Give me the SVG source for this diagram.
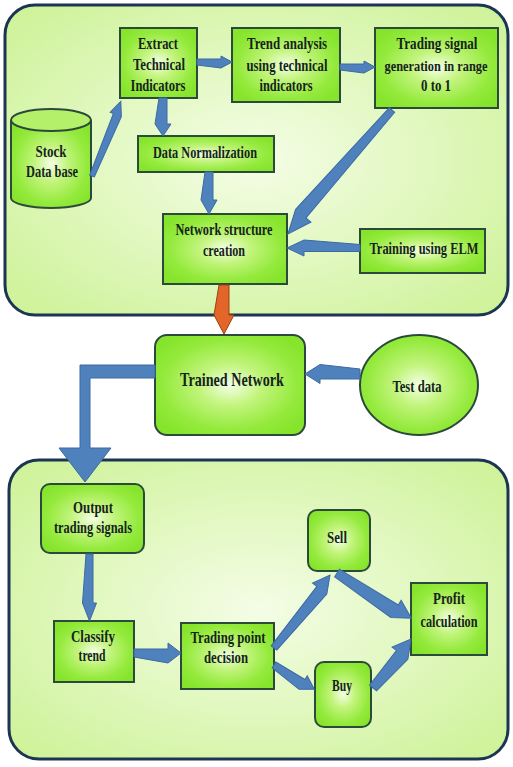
<svg xmlns="http://www.w3.org/2000/svg" width="513" height="767" viewBox="0 0 513 767">
<defs>
<radialGradient id="gBox" cx="50%" cy="50%" r="60%">
<stop offset="0" stop-color="#f4ffe6"/>
<stop offset="0.35" stop-color="#c2f47c"/>
<stop offset="0.75" stop-color="#94ea3c"/>
<stop offset="1" stop-color="#86e42c"/>
</radialGradient>
<radialGradient id="gCont" cx="50%" cy="50%" r="70%">
<stop offset="0" stop-color="#f4fde6"/>
<stop offset="1" stop-color="#cdf296"/>
</radialGradient>
<style>
.cont{fill:url(#gCont);stroke:#1c3553;stroke-width:3}
.box{fill:url(#gBox);stroke:#2c4a3c;stroke-width:2}
.t{font-family:"Liberation Serif","DejaVu Serif",serif;font-weight:bold;font-size:16px;fill:#14241a;text-anchor:middle}
.s{font-size:15px}
.big{font-size:19px}
.arr{fill:#4f81bd;stroke:#3b6aa3;stroke-width:1}
.org{fill:#e2652a;stroke:#9c3f12;stroke-width:1}
</style>
</defs>
<rect width="513" height="767" fill="#ffffff"/>
<rect class="cont" x="5" y="5" width="503" height="310" rx="30"/>
<rect class="cont" x="9" y="460" width="499" height="299" rx="30"/>

<g id="stock">
<path class="box" d="M11,120 L11,198 A40,10 0 0 0 91,198 L91,120"/>
<ellipse class="box" cx="51" cy="120" rx="40" ry="11" style="fill:#b4f06a"/>
<text class="t" x="51" y="157" textLength="31" lengthAdjust="spacingAndGlyphs">Stock</text>
<text class="t" x="52" y="177" textLength="52" lengthAdjust="spacingAndGlyphs">Data base</text>
</g>
<g id="extract">
<rect class="box" x="120" y="28" width="77" height="70"/>
<text class="t" x="158" y="49" textLength="40" lengthAdjust="spacingAndGlyphs">Extract</text>
<text class="t" x="159" y="70" textLength="52" lengthAdjust="spacingAndGlyphs">Technical</text>
<text class="t" x="158" y="91" textLength="55" lengthAdjust="spacingAndGlyphs">Indicators</text>
</g>
<g id="trend">
<rect class="box" x="232" y="28" width="108" height="74"/>
<text class="t" x="287" y="49" textLength="80" lengthAdjust="spacingAndGlyphs">Trend analysis</text>
<text class="t" x="287" y="71" textLength="81" lengthAdjust="spacingAndGlyphs">using technical</text>
<text class="t" x="286" y="91" textLength="53" lengthAdjust="spacingAndGlyphs">indicators</text>
</g>
<g id="signal">
<rect class="box" x="375" y="28" width="123" height="80"/>
<text class="t" x="437" y="49" textLength="81" lengthAdjust="spacingAndGlyphs">Trading signal</text>
<text class="t s" x="436" y="71" textLength="103" lengthAdjust="spacingAndGlyphs">generation in range</text>
<text class="t" x="436" y="91" textLength="30" lengthAdjust="spacingAndGlyphs">0 to 1</text>
</g>
<g id="normalize">
<rect class="box" x="138" y="136" width="136" height="36"/>
<text class="t" x="205" y="158" textLength="104" lengthAdjust="spacingAndGlyphs">Data Normalization</text>
</g>
<g id="network">
<rect class="box" x="163" y="214" width="124" height="70"/>
<text class="t" x="224" y="235" textLength="97" lengthAdjust="spacingAndGlyphs">Network structure</text>
<text class="t" x="224" y="256" textLength="42" lengthAdjust="spacingAndGlyphs">creation</text>
</g>
<g id="elm">
<rect class="box" x="360" y="229" width="125" height="44"/>
<text class="t" x="424" y="254" textLength="109" lengthAdjust="spacingAndGlyphs">Training using ELM</text>
</g>
<g id="trained">
<rect class="box" x="155" y="335" width="150" height="100" rx="12"/>
<text class="t big" x="232" y="386" textLength="104" lengthAdjust="spacingAndGlyphs">Trained Network</text>
</g>
<g id="testdata">
<ellipse class="box" cx="419" cy="385" rx="59" ry="50"/>
<text class="t" x="417" y="392" textLength="49" lengthAdjust="spacingAndGlyphs">Test data</text>
</g>
<g id="output">
<rect class="box" x="41" y="484" width="103" height="69" rx="9"/>
<text class="t" x="93" y="513" textLength="40" lengthAdjust="spacingAndGlyphs">Output</text>
<text class="t" x="93" y="533" textLength="78" lengthAdjust="spacingAndGlyphs">trading signals</text>
</g>
<g id="classify">
<rect class="box" x="54" y="621" width="80" height="61"/>
<text class="t" x="93" y="642" textLength="44" lengthAdjust="spacingAndGlyphs">Classify</text>
<text class="t" x="92" y="661" textLength="27" lengthAdjust="spacingAndGlyphs">trend</text>
</g>
<g id="tradepoint">
<rect class="box" x="181" y="623" width="93" height="66"/>
<text class="t" x="228" y="643" textLength="75" lengthAdjust="spacingAndGlyphs">Trading point</text>
<text class="t" x="226" y="663" textLength="44" lengthAdjust="spacingAndGlyphs">decision</text>
</g>
<g id="sell">
<rect class="box" x="308" y="510" width="62" height="61" rx="9"/>
<text class="t" x="337" y="543" textLength="20" lengthAdjust="spacingAndGlyphs">Sell</text>
</g>
<g id="buy">
<rect class="box" x="315" y="662" width="56" height="65" rx="9"/>
<text class="t" x="342" y="691" textLength="20" lengthAdjust="spacingAndGlyphs">Buy</text>
</g>
<g id="profit">
<rect class="box" x="411" y="583" width="76" height="72"/>
<text class="t" x="449" y="604" textLength="32" lengthAdjust="spacingAndGlyphs">Profit</text>
<text class="t" x="449" y="627" textLength="57" lengthAdjust="spacingAndGlyphs">calculation</text>
</g>

<g id="connectors">
<polygon class="arr" transform="translate(197,62)" points="0,-3 24,-3 24,-6 35,0 24,6 0,3"/>
<polygon class="arr" transform="translate(340,67)" points="0,-3 24,-3 24,-6 35,0 24,6 0,3"/>
<polygon class="arr" transform="translate(163,98) rotate(90)" points="0,-4 26,-4 26,-8 38,0 26,8 0,4"/>
<polygon class="arr" transform="translate(209,172) rotate(90)" points="0,-4 28,-4 28,-8 42,0 28,8 0,4"/>
<polygon class="arr" transform="translate(92,176) rotate(-68.9)" points="0,-2.5 66,-2.5 66,-6 80,0 66,6 0,2.5"/>
<polygon class="arr" transform="translate(392,110) rotate(130)" points="0,-3.5 138,-3.5 138,-10 162,0 138,10 0,3.5"/>
<polygon class="arr" transform="translate(360,248) rotate(180)" points="0,-3.5 56,-3.5 56,-8 73,0 56,8 0,3.5"/>
<polygon class="org" transform="translate(224,285) rotate(90)" points="0,-5 30,-5 30,-10 49,0 30,10 0,5"/>
<polygon class="arr" transform="translate(360,374) rotate(180)" points="0,-5 40,-5 40,-9.5 55,0 40,9.5 0,5"/>
<path class="arr" d="M155,365 L80,365 L80,448 L59,448 L85,482 L111,448 L90,448 L90,378 L155,378 Z"/>
<polygon class="arr" transform="translate(89.5,554) rotate(90)" points="0,-3.5 49,-3.5 49,-7 67,0 49,7 0,3.5"/>
<polygon class="arr" transform="translate(134,653)" points="0,-4 34,-4 34,-10 47,0 34,10 0,4"/>
<polygon class="arr" transform="translate(274,648) rotate(-52.5)" points="0,-3.5 75,-3.5 75,-9 92,0 75,9 0,3.5"/>
<polygon class="arr" transform="translate(274,665) rotate(31)" points="0,-3.5 34,-3.5 34,-8 47,0 34,8 0,3.5"/>
<polygon class="arr" transform="translate(337,573) rotate(31.3)" points="0,-4.5 69,-4.5 69,-10 87,0 69,10 0,4.5"/>
<polygon class="arr" transform="translate(373,688) rotate(-52.2)" points="0,-4.5 44,-4.5 44,-10 62,0 44,10 0,4.5"/>
</g>
</svg>
